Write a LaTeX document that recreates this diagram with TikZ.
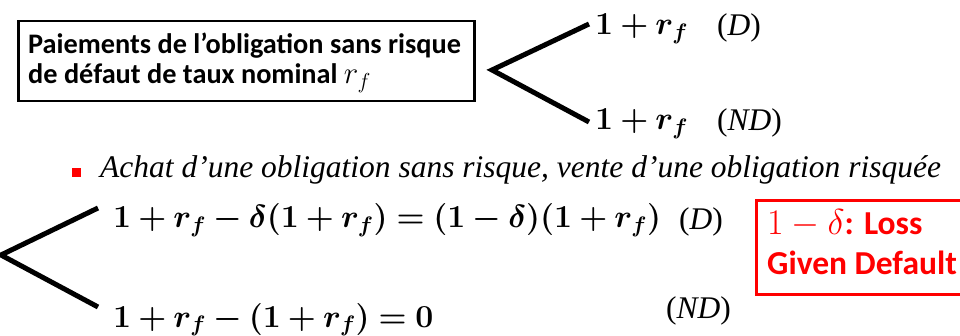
\RequirePackage{fix-cm}
\documentclass[tikz,border=0pt]{standalone}
\usepackage{amsmath,bm}
\usepackage{fontspec}
\setmainfont{Liberation Serif}
\newfontfamily\calib{Carlito}
\newcommand{\tpar}[1]{{\upshape(}#1{\upshape)}}
\begin{document}
\begin{tikzpicture}[x=1pt,y=-1pt,
  mathlbl/.style={anchor=base west, inner sep=0pt, font=\fontsize{32}{38}\selectfont},
  tlbl/.style={anchor=base west, inner sep=0pt, font=\fontsize{31.5}{36}\selectfont\itshape},
  fork/.style={line width=5pt, line join=miter},
  cbox/.style={anchor=base west, inner sep=0pt, font=\fontsize{28.3}{32}\selectfont\calib\bfseries},
  rtext/.style={anchor=base west, inner sep=0pt, text=red, font=\fontsize{33.5}{40}\selectfont\calib\bfseries}]
\useasboundingbox (0,0) rectangle (960,336);
\clip (0,0) rectangle (960,336);
% top box
\node[draw, line width=2.5pt, anchor=north west, minimum width=456pt, minimum height=80pt, inner sep=0pt] (box1) at (17,20) {};
\node[cbox] (b1l1) at (28,54) {Paiements de l’obligation sans risque};
\node[cbox] (b1l2) at (28,84) {de défaut de taux nominal {\fontsize{31}{34}\selectfont$r_f$}};
% top fork
\coordinate (v1) at (492,70);
\coordinate (u1) at (589,24);
\coordinate (l1) at (589,122);
\draw[fork] (u1) -- (v1) -- (l1);
\node[mathlbl] (t1) at (595,35) {$\bm{1+r_f}$};
\node[tlbl] (t1d) at (717,36) {\tpar{D}};
\node[mathlbl] (t2) at (595,130) {$\bm{1+r_f}$};
\node[tlbl] (t2d) at (717,131) {\tpar{ND}};
% bullet
\node[fill=red, minimum size=9pt, inner sep=0pt] (bul) at (76.5,173) {};
\node[tlbl] (btxt) at (100,178) {Achat d’une obligation sans risque, vente d’une obligation risquée};
% lower fork
\coordinate (v2) at (1,255);
\coordinate (u2) at (98,208);
\coordinate (l2) at (98,307);
\draw[fork] (u2) -- (v2) -- (l2);
\node[mathlbl] (e1) at (113,228) {$\bm{1+r_f-\delta(1+r_f)=(1-\delta)(1+r_f)}$};
\node[tlbl] (e1d) at (679,230) {\tpar{D}};
\node[mathlbl] (e2) at (113,327) {$\bm{1+r_f-(1+r_f)=0}$};
\node[tlbl] (e2d) at (666,318) {\tpar{ND}};
% red box
\node[draw=red, line width=3pt, anchor=north west, minimum width=260pt, minimum height=94pt, inner sep=0pt] (lgd) at (755,199) {};
\node[rtext] (lg1) at (767,235) {{\mdseries\fontsize{36}{40}\selectfont$1-\delta$}: Loss};
\node[rtext] (lg2) at (767,275) {Given Default};
\end{tikzpicture}
\end{document}
